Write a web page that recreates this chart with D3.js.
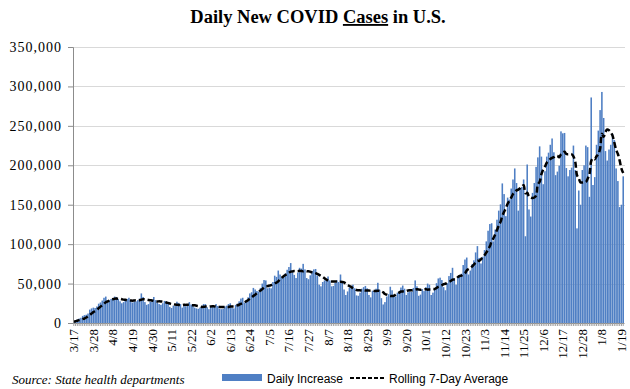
<!DOCTYPE html>
<html>
<head>
<meta charset="utf-8">
<script src="https://cdn.jsdelivr.net/npm/d3@7"></script>
<style>
  body { margin: 0; background: #fff; }
  svg { display: block; }
</style>
</head>
<body>
<script>
// daily new cases, 3/17/2020 .. 1/20/2021
var daily = [
  // March
  1800, 2600, 4400, 5600, 6600, 9000, 10000, 10500, 12000, 17000, 18500, 19500, 19000, 21000, 24500,
  // April
  26000, 28500, 32000, 33500, 26000, 29000, 30500, 31500, 33500, 33000, 30500, 27500, 25000, 26500, 29500,
  30500, 32000, 29000, 26000, 27000, 27500, 29000, 31000, 37500, 33000, 26500, 23000, 24000, 27000, 29500,
  // May
  33000, 29000, 26000, 24000, 23000, 25000, 28000, 27500, 25000, 20500, 19000, 22000, 21500, 27000, 25500,
  24000, 19500, 22000, 21000, 22500, 26500, 23500, 22000, 19500, 18500, 18000, 19500, 22000, 24000, 24000, 20000,
  // June
  17500, 20000, 20500, 21500, 24000, 21500, 18000, 17500, 18000, 21000, 22000, 24000, 25000, 19500, 18500,
  23000, 24500, 27500, 31000, 32000, 26000, 29000, 32500, 37500, 39000, 44500, 42500, 40500, 40000, 44500,
  // July
  50000, 54500, 54000, 44000, 45000, 44000, 52000, 60000, 58500, 66500, 61500, 58500, 58000, 63000, 67500,
  71000, 76000, 64000, 61000, 57000, 64000, 70000, 69000, 75000, 68000, 57000, 55500, 60500, 66000, 68000, 68500,
  // August
  60000, 48500, 46500, 52000, 54000, 56000, 59000, 54000, 46500, 47000, 51000, 54000, 52000, 61500, 52000,
  42500, 35500, 40000, 45000, 44500, 48500, 44000, 35000, 34500, 38500, 43500, 45500, 47000, 44000, 35500, 32500,
  // September
  41000, 39500, 43500, 51000, 42000, 31500, 23500, 26500, 33500, 36500, 46000, 41500, 34500, 33500, 38500,
  40000, 45000, 47500, 43500, 35500, 39000, 40000, 39500, 44500, 54000, 46500, 34500, 36000, 43000, 40500,
  // October
  45500, 50000, 48500, 35500, 38500, 42500, 50500, 56500, 57500, 54500, 45500, 41500, 50500, 59500, 63500,
  70000, 56500, 48500, 58500, 60500, 62500, 73500, 80500, 83000, 61500, 66500, 74500, 79500, 89500, 97500, 82500,
  // November
  75500, 84000, 92500, 103500, 117000, 125500, 126500, 103500, 118500, 131000, 142500, 150500, 177000, 163500, 135500,
  159000, 156500, 170500, 182000, 196000, 177500, 142500, 171000, 172500, 182000, 110000, 201000, 144000, 135000, 165000,
  // December
  177500, 198000, 210000, 224000, 211000, 176000, 192500, 211000, 216000, 226000, 234000, 216500, 187500, 192000, 199500,
  243000, 240500, 241000, 196500, 186000, 194000, 197000, 225000, 194000, 120000, 168000, 150000, 194000, 200000, 225000, 223000,
  // January
  160000, 286000, 175000, 185000, 226000, 244000, 270000, 293000, 260000, 218000, 206000, 220000, 226000, 240000, 232000,
  196000, 180000, 147000, 150000, 186000
];

var tickLabels = ["3/17","3/28","4/8","4/19","4/30","5/11","5/22","6/2","6/13","6/24","7/5","7/16","7/27","8/7",
  "8/18","8/29","9/9","9/20","10/1","10/12","10/23","11/3","11/14","11/25","12/6","12/17","12/28","1/8","1/19"];
var yTicks = [0, 50000, 100000, 150000, 200000, 250000, 300000, 350000];

(function() {
  var fmtDay = d3.timeFormat("%-m/%-d");
  var days = daily.map(function(d, i) { return fmtDay(d3.timeDay.offset(new Date(2020, 2, 17), i)); });

  // rolling 7-day mean of the daily counts
  var rolling = daily.map(function(d, i) {
    return d3.mean(daily.slice(Math.max(0, i - 6), i + 1));
  });

  var W = 630, H = 389;
  var pl = 73, pr = 624, pt = 47, pb = 323;
  var serif = "'Liberation Serif', 'Times New Roman', serif";
  var sans = "'Liberation Sans', Arial, sans-serif";

  var svg = d3.select("body").append("svg").attr("width", W).attr("height", H);

  var x = d3.scaleBand().domain(days).range([pl, pr]).paddingInner(0.12);
  var y = d3.scaleLinear().domain([0, 350000]).range([pb, pt]);

  // title
  var title = svg.append("text").attr("x", 318).attr("y", 23)
    .attr("text-anchor", "middle")
    .style("font-family", serif)
    .style("font-weight", "bold").style("font-size", "18.5px");
  title.append("tspan").text("Daily New COVID ");
  title.append("tspan").text("Cases").style("text-decoration", "underline");
  title.append("tspan").text(" in U.S.");

  // gridlines
  svg.append("g").selectAll("line").data(yTicks.slice(1)).enter().append("line")
    .attr("x1", pl).attr("x2", pr + 1)
    .attr("y1", function(d) { return Math.round(y(d)) + 0.5; })
    .attr("y2", function(d) { return Math.round(y(d)) + 0.5; })
    .style("stroke", "#d9d9d9").style("stroke-width", 1);

  // bars
  svg.append("g").selectAll("rect").data(daily).enter().append("rect")
    .attr("x", function(d, i) { return x(days[i]); })
    .attr("width", x.bandwidth())
    .attr("y", function(d) { return y(d); })
    .attr("height", function(d) { return pb - y(d); })
    .style("fill", "#4f7fc4");

  // rolling average
  var line = d3.line()
    .x(function(d, i) { return x(days[i]) + x.bandwidth() / 2; })
    .y(function(d) { return y(d); })
    .curve(d3.curveCatmullRom);
  svg.append("path").datum(rolling).attr("d", line)
    .style("fill", "none").style("stroke", "#000")
    .style("stroke-width", 2.5).style("stroke-dasharray", "6,3");

  // y axis
  var yAxis = svg.append("g").attr("transform", "translate(" + pl + ",0)")
    .call(d3.axisLeft(y).tickValues(yTicks).tickFormat(d3.format(",")).tickSize(5).tickPadding(6));
  yAxis.select(".domain").style("stroke", "#8c8c8c");
  yAxis.selectAll(".tick line").style("stroke", "#8c8c8c");
  yAxis.selectAll("text").style("font-family", serif)
    .style("font-size", "14px").style("letter-spacing", "1px").style("fill", "#000");

  // x axis
  var xAxis = svg.append("g").attr("transform", "translate(0," + pb + ")")
    .call(d3.axisBottom(x).tickSize(3).tickSizeOuter(0)
      .tickFormat(function(d) { return tickLabels.indexOf(d) >= 0 ? d : ""; }));
  xAxis.select(".domain").style("stroke", "#8c8c8c");
  xAxis.selectAll(".tick line").style("stroke", "#a0a0a0");
  xAxis.selectAll("text")
    .attr("transform", "rotate(-90)")
    .attr("x", -6).attr("y", 0).attr("dy", "0.35em")
    .attr("text-anchor", "end")
    .style("font-family", serif)
    .style("font-size", "13px").style("fill", "#000");

  // source note
  svg.append("text").attr("x", 12).attr("y", 384).text("Source: State health departments")
    .style("font-family", serif)
    .style("font-style", "italic").style("font-size", "13px");

  // legend
  svg.append("rect").attr("x", 222).attr("y", 374).attr("width", 40).attr("height", 7).style("fill", "#4f7fc4");
  svg.append("text").attr("x", 267).attr("y", 383).text("Daily Increase")
    .style("font-family", sans).style("font-size", "12px");
  svg.append("line").attr("x1", 350).attr("x2", 386).attr("y1", 378).attr("y2", 378)
    .style("stroke", "#000").style("stroke-width", 2).style("stroke-dasharray", "4,2");
  svg.append("text").attr("x", 389).attr("y", 383).text("Rolling 7-Day Average")
    .style("font-family", sans).style("font-size", "12px");
})();
</script>
</body>
</html>
